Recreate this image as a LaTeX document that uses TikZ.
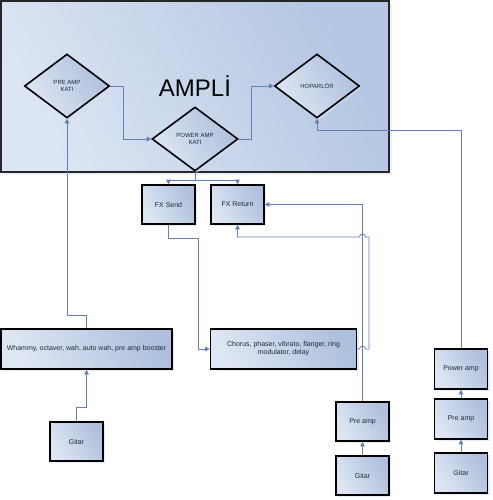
\documentclass[tikz,border=0pt]{standalone}
\usepackage{fontspec}
\setmainfont{Liberation Sans}
\usetikzlibrary{shapes.geometric,arrows.meta,shadows}

\definecolor{boxlight}{RGB}{222,230,243}
\definecolor{boxdark}{RGB}{174,192,221}
\definecolor{amplight}{RGB}{220,229,243}
\definecolor{ampdark}{RGB}{180,198,226}
\definecolor{wirecol}{RGB}{98,128,182}
\definecolor{txtcol}{RGB}{30,40,58}

\tikzset{
  shade box/.style={left color=boxlight, right color=boxdark, shading angle=120,
    draw=black, line width=1.6pt, text=txtcol, font=\fontsize{7}{8.2}\selectfont,
    drop shadow={shadow xshift=2pt, shadow yshift=-2pt, fill=boxdark!50, opacity=0.6}},
  unit/.style={shade box, rectangle, minimum width=53pt, minimum height=39pt, inner sep=1pt},
  stage/.style={shade box, diamond, minimum width=85pt, minimum height=64pt, inner sep=0pt,
    align=center, font=\fontsize{6}{7}\selectfont},
  wire/.style={draw=wirecol, line width=0.8pt, -{Triangle[length=4.5pt,width=4.5pt]}},
}

\begin{document}
\begin{tikzpicture}[x=1pt, y=-1pt]
                    \useasboundingbox (0,0) rectangle (492,500);

                    % amplifier housing
                    \node[left color=amplight, right color=ampdark, shading angle=120,
                      draw=black!85, line width=2.5pt, rectangle, minimum width=388pt, minimum height=171pt,
                      text=black, font=\fontsize{24}{26}\selectfont,
                      drop shadow={shadow xshift=3pt, shadow yshift=-3pt, fill=boxdark!45, opacity=0.5}]
                      (ampli) at (195,86.5) {AMPLİ};

                    \node[stage] (prekati) at (67,86) {PRE AMP\\KATI};
                    \node[stage, minimum width=86pt] (powerkati) at (195,139) {POWER AMP\\KATI};
                    \node[stage] (hoparlor) at (317,86) {HOPARLÖR};

                    \node[unit] (fxsend) at (168.5,204.5) {FX Send};
                    \node[unit] (fxreturn) at (237.5,204.5) {FX Return};

                    \node[unit, minimum width=171pt, minimum height=40pt] (whammy) at (86.5,349)
                      {Whammy, octaver, wah, auto wah, pre amp booster};
                    \node[unit, minimum width=146pt, minimum height=40pt, align=center] (chorus) at (283.5,349)
                      {Chorus, phaser, vibrato, flanger, ring\\modulator, delay};

                    \node[unit] (gitarA) at (76.5,441.5) {Gitar};
                    \node[unit] (preampB) at (362.5,421.5) {Pre amp};
                    \node[unit] (gitarB) at (362.5,475.5) {Gitar};
                    \node[unit, minimum height=40pt] (poweramp) at (461,369) {Power amp};
                    \node[unit, minimum height=40pt] (preampC) at (461,419) {Pre amp};
                    \node[unit, minimum height=40pt] (gitarC) at (461,473) {Gitar};

                    % left chain
                    \draw[wire] (gitarA.north) -- ++(0,-14) -| (whammy.south);
                    \draw[wire] (whammy.north) -- ++(0,-13) -| (prekati.south);
                    \draw[wire] (prekati.east) -- ++(13,0) |- (powerkati.west);
                    \draw[wire] (powerkati.east) -- ++(13,0) |- (hoparlor.west);
                    \draw[wire] (powerkati.south) -- ++(0,9) -| (fxsend.north);
                    \draw[wire] (powerkati.south) -- ++(0,9) -| (fxreturn.north);

                    % effect loop
                    \draw[wire] (fxsend.south) |- (198,238) |- (chorus.west);
                    \draw[wire] (preampB.north) |- (fxreturn.east);
                    \draw[wire] (chorus.east) -- (359.5,349) arc[start angle=180, end angle=360, radius=3]
                      -- (369,349) -- (369,237) -- (365.5,237) arc[start angle=0, end angle=-180, radius=3]
                      -- (237.5,237) -- (fxreturn.south);

                    % middle and right chains
                    \draw[wire] (gitarB.north) -- (preampB.south);
                    \draw[wire] (gitarC.north) -- (preampC.south);
                    \draw[wire] (preampC.north) -- (poweramp.south);
                    \draw[wire] (poweramp.north) -- ++(0,-218) -| (hoparlor.south);
\end{tikzpicture}
\end{document}
